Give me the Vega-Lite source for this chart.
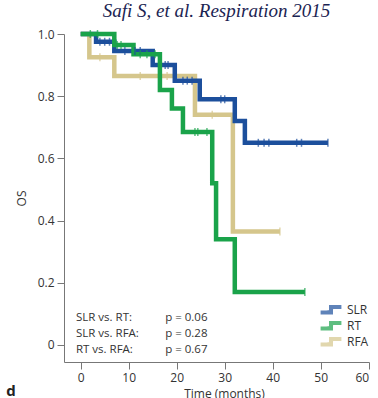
{
  "$schema": "https://vega.github.io/schema/vega-lite/v6.json",
  "width": 305,
  "height": 328,
  "autosize": {"type": "none"},
  "padding": {"left": 64, "top": 34, "right": 9, "bottom": 36},
  "background": "white",
  "title": {
    "text": "Safi S, et al. Respiration 2015",
    "font": "Liberation Serif",
    "fontStyle": "italic",
    "fontWeight": "normal",
    "fontSize": 19,
    "color": "#1b2452",
    "anchor": "middle",
    "offset": 4
  },
  "config": {
    "view": {"stroke": null},
    "axis": {
      "labelFont": "Open Sans",
      "titleFont": "Open Sans",
      "labelFontSize": 12,
      "titleFontSize": 12,
      "titleFontWeight": "normal",
      "labelColor": "#333",
      "titleColor": "#333",
      "domainColor": "#777",
      "tickColor": "#777",
      "tickSize": 7,
      "labelPadding": 3,
      "grid": false
    }
  },
  "datasets": {
    "curves": [
      {"group": "RFA", "time": 0, "surv": 1.0},
      {"group": "RFA", "time": 1.8, "surv": 0.925},
      {"group": "RFA", "time": 7, "surv": 0.865},
      {"group": "RFA", "time": 23.8, "surv": 0.74},
      {"group": "RFA", "time": 31.7, "surv": 0.365},
      {"group": "RFA", "time": 41.5, "surv": 0.365},
      {"group": "SLR", "time": 0, "surv": 1.0},
      {"group": "SLR", "time": 3.2, "surv": 0.975},
      {"group": "SLR", "time": 7, "surv": 0.945},
      {"group": "SLR", "time": 15, "surv": 0.9},
      {"group": "SLR", "time": 19.6, "surv": 0.85},
      {"group": "SLR", "time": 24.8, "surv": 0.79},
      {"group": "SLR", "time": 32.1, "surv": 0.72},
      {"group": "SLR", "time": 34.2, "surv": 0.65},
      {"group": "SLR", "time": 51.5, "surv": 0.65},
      {"group": "RT", "time": 0, "surv": 1.0},
      {"group": "RT", "time": 7, "surv": 0.965},
      {"group": "RT", "time": 11, "surv": 0.935},
      {"group": "RT", "time": 16.5, "surv": 0.82},
      {"group": "RT", "time": 19, "surv": 0.76},
      {"group": "RT", "time": 21.3, "surv": 0.685},
      {"group": "RT", "time": 27.4, "surv": 0.52},
      {"group": "RT", "time": 28.2, "surv": 0.34},
      {"group": "RT", "time": 32.1, "surv": 0.17},
      {"group": "RT", "time": 46.7, "surv": 0.17}
    ],
    "censor": [
      {"group": "RFA", "time": 4, "surv": 0.925},
      {"group": "RFA", "time": 12.4, "surv": 0.865},
      {"group": "RFA", "time": 18, "surv": 0.865},
      {"group": "RFA", "time": 27.4, "surv": 0.74},
      {"group": "RFA", "time": 41.5, "surv": 0.365},
      {"group": "SLR", "time": 4, "surv": 0.975},
      {"group": "SLR", "time": 5, "surv": 0.975},
      {"group": "SLR", "time": 6, "surv": 0.975},
      {"group": "SLR", "time": 9.2, "surv": 0.945},
      {"group": "SLR", "time": 11.3, "surv": 0.945},
      {"group": "SLR", "time": 12.4, "surv": 0.945},
      {"group": "SLR", "time": 17.6, "surv": 0.9},
      {"group": "SLR", "time": 18.2, "surv": 0.9},
      {"group": "SLR", "time": 21.3, "surv": 0.85},
      {"group": "SLR", "time": 22.2, "surv": 0.85},
      {"group": "SLR", "time": 23.2, "surv": 0.85},
      {"group": "SLR", "time": 29.2, "surv": 0.79},
      {"group": "SLR", "time": 30, "surv": 0.79},
      {"group": "SLR", "time": 37, "surv": 0.65},
      {"group": "SLR", "time": 38.2, "surv": 0.65},
      {"group": "SLR", "time": 39.2, "surv": 0.65},
      {"group": "SLR", "time": 45, "surv": 0.65},
      {"group": "SLR", "time": 46, "surv": 0.65},
      {"group": "SLR", "time": 51.5, "surv": 0.65},
      {"group": "RT", "time": 2, "surv": 1.0},
      {"group": "RT", "time": 3.5, "surv": 1.0},
      {"group": "RT", "time": 7.6, "surv": 0.965},
      {"group": "RT", "time": 8.4, "surv": 0.965},
      {"group": "RT", "time": 12.4, "surv": 0.935},
      {"group": "RT", "time": 13.8, "surv": 0.935},
      {"group": "RT", "time": 15.5, "surv": 0.935},
      {"group": "RT", "time": 23.8, "surv": 0.685},
      {"group": "RT", "time": 24.4, "surv": 0.685},
      {"group": "RT", "time": 26.3, "surv": 0.685},
      {"group": "RT", "time": 46.7, "surv": 0.17}
    ],
    "stats": [
      {"comparison": "SLR vs. RT:", "p": "p = 0.06"},
      {"comparison": "SLR vs. RFA:", "p": "p = 0.28"},
      {"comparison": "RT vs. RFA:", "p": "p = 0.67"}
    ]
  },
  "layer": [
    {
      "data": {"name": "curves"},
      "mark": {"type": "line", "interpolate": "step-after", "strokeWidth": 4.5},
      "encoding": {
        "x": {
          "field": "time",
          "type": "quantitative",
          "scale": {"domain": [-3.48, 60.06], "nice": false, "zero": false},
          "axis": {"values": [0, 10, 20, 30, 40, 50, 60], "title": "Time (months)", "titleX": 160, "titleY": 26, "titleBaseline": "top"}
        },
        "y": {
          "field": "surv",
          "type": "quantitative",
          "scale": {"domain": [-0.055, 1.0], "nice": false, "zero": false},
          "axis": {
            "values": [0, 0.2, 0.4, 0.6, 0.8, 1.0],
            "labelExpr": "datum.value == 0 ? '0' : format(datum.value, '.1f')",
            "title": "OS",
            "titleAngle": -90,
            "titleX": -43,
            "titleY": 164,
            "titleAlign": "center",
            "titleBaseline": "middle"
          }
        },
        "color": {
          "field": "group",
          "type": "nominal",
          "scale": {"domain": ["SLR", "RT", "RFA"], "range": ["#1c4f9c", "#1aa34a", "#d5c68c"]},
          "legend": {
            "orient": "none",
            "legendX": 253,
            "legendY": 268,
            "title": null,
            "symbolType": "M-0.6,0.7H2V-0.7H4.6",
            "symbolSize": 64,
            "symbolStrokeWidth": 4,
            "symbolFillColor": "transparent",
            "symbolOpacity": 1,
            "labelFont": "Open Sans",
            "labelFontSize": 12,
            "labelColor": "#333",
            "labelOffset": 18,
            "rowPadding": 0,
            "clipHeight": 15.5
          }
        }
      }
    },
    {
      "data": {"name": "censor"},
      "mark": {"type": "tick", "orient": "vertical", "size": 8, "thickness": 1.5},
      "encoding": {
        "x": {"field": "time", "type": "quantitative"},
        "y": {"field": "surv", "type": "quantitative"},
        "color": {"field": "group", "type": "nominal"}
      }
    },
    {
      "data": {"name": "stats"},
      "transform": [{"aggregate": [{"op": "values", "field": "comparison", "as": "comps"}, {"op": "values", "field": "p", "as": "ps"}]}],
      "layer": [
        {
          "mark": {"type": "text", "align": "left", "baseline": "middle", "font": "Open Sans", "fontSize": 11.5, "lineHeight": 16, "color": "#333", "text": {"expr": "pluck(datum.comps, 'comparison')"}},
          "encoding": {"x": {"datum": -1.0}, "y": {"datum": 0.0865}}
        },
        {
          "mark": {"type": "text", "align": "left", "baseline": "middle", "font": "Open Sans", "fontSize": 11.5, "lineHeight": 16, "color": "#333", "text": {"expr": "pluck(datum.ps, 'p')"}},
          "encoding": {"x": {"datum": 17.6}, "y": {"datum": 0.0865}}
        }
      ]
    },
    {
      "data": {"values": [{"label": "d"}]},
      "mark": {"type": "text", "align": "center", "baseline": "alphabetic", "font": "Open Sans", "fontSize": 15, "fontWeight": "bold", "color": "#222"},
      "encoding": {"x": {"datum": -14.5}, "y": {"datum": -0.163}, "text": {"field": "label"}}
    }
  ]
}
